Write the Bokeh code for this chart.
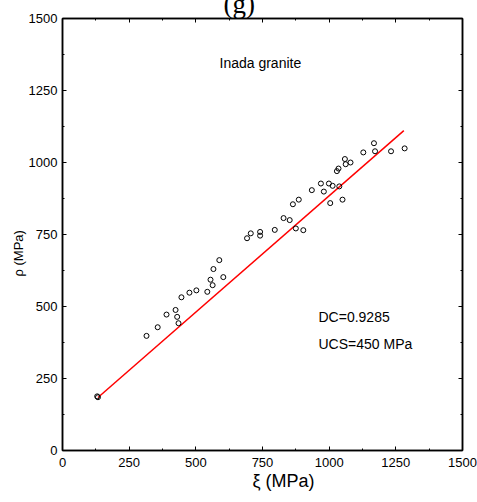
import numpy as np
from bokeh.plotting import figure
from bokeh.models import Range1d, LinearAxis, SingleIntervalTicker, Label, Title
from bokeh.embed import file_html
from bokeh.resources import INLINE

# data
xi = [130, 133, 315, 357, 390, 424, 430, 435, 446, 476, 502, 543, 555, 563, 566, 588, 603,
      692, 706, 741, 741, 796, 829, 852, 875, 903, 864, 886, 935, 969, 980, 999, 1013, 1038,
      1004, 1050, 1029, 1035, 1059, 1062, 1080, 1128, 1168, 1172, 1232, 1283]
rho = [188, 185, 398, 428, 472, 488, 464, 442, 532, 548, 556, 551, 593, 574, 630, 661, 602,
       737, 754, 759, 746, 766, 807, 800, 771, 765, 855, 871, 904, 927, 899, 927, 919, 917,
       859, 871, 970, 979, 1012, 994, 1000, 1035, 1067, 1039, 1039, 1049]
fit_slope = 0.808
fit_intercept = 76.5
fit_x = [133, 1280]
fit_y = [fit_slope * v + fit_intercept for v in fit_x]

title_text = "(g)"
rock_name = "Inada granite"
dc_text = "DC=0.9285"
ucs_text = "UCS=450 MPa"
x_title = "ξ (MPa)"
y_title = "ρ (MPa)"

SANS = "Liberation Sans"
SERIF = "Liberation Serif"

SHIFT = 40  # hidden strip above the window (reference title is cut off)

p = figure(width=477, height=502 + SHIFT, output_backend="svg", toolbar_location=None,
           x_range=Range1d(0, 1500), y_range=Range1d(0, 1500),
           min_border_left=62, min_border_right=15, min_border_top=18 + SHIFT,
           min_border_bottom=52,
           x_axis_location=None, y_axis_location=None,
           styles={"margin-top": f"-{SHIFT}px"})
p.grid.visible = False
p.outline_line_color = "black"
p.outline_line_width = 1.5
p.background_fill_color = "white"
p.border_fill_color = "white"

def make_axis(show_labels):
    ax = LinearAxis(ticker=SingleIntervalTicker(interval=250, num_minor_ticks=2))
    ax.axis_line_width = 1.5
    ax.axis_line_color = "black"
    ax.major_tick_in = 4
    ax.major_tick_out = 0
    ax.minor_tick_in = 2
    ax.minor_tick_out = 0
    ax.major_tick_line_color = "black"
    ax.minor_tick_line_color = "black"
    ax.major_label_text_font = SANS
    ax.major_label_text_font_size = "13px"
    ax.major_label_text_color = "black"
    if not show_labels:
        ax.major_label_text_font_size = "0px"
        ax.major_label_text_color = None
        ax.major_label_standoff = 0
    return ax

bx = make_axis(True)
bx.major_label_standoff = 7
lx = make_axis(True)
lx.major_label_standoff = 5
tx = make_axis(False)
rx = make_axis(False)
p.add_layout(bx, "below")
p.add_layout(lx, "left")
p.add_layout(tx, "above")
p.add_layout(rx, "right")

p.add_layout(Title(text=x_title, align="left", offset=190, text_font=SANS,
                   text_font_size="18px", text_font_style="normal", text_color="black",
                   standoff=-2), "below")
p.add_layout(Title(text=y_title, align="left", offset=174, text_font=SANS,
                   text_font_size="13px", text_font_style="normal", text_color="black",
                   standoff=0), "left")
p.add_layout(Title(text=title_text, align="left", offset=161, text_font=SERIF,
                   text_font_size="27px", text_font_style="normal", text_color="black",
                   standoff=0), "above")

p.line(fit_x, fit_y, line_color="red", line_width=1.5)
p.scatter(xi, rho, marker="circle", size=5, fill_color=None, line_color="black", line_width=1)

def lab(x, y, text, size, align="left"):
    p.add_layout(Label(x=x, y=y, text=text, text_font=SANS, text_font_size=size,
                       text_align=align, text_baseline="middle", text_color="black"))

lab(742, 1347, rock_name, "14px", align="center")
lab(960, 462, dc_text, "14px")
lab(960, 371, ucs_text, "14px")

open("out.html", "w").write(file_html(p, INLINE))
